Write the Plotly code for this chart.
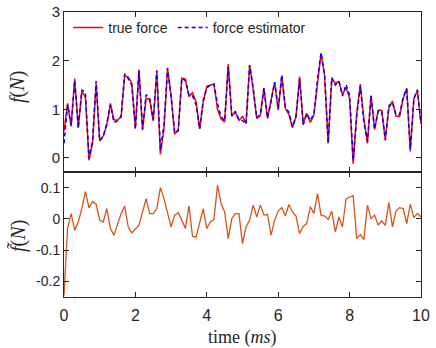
import plotly.graph_objects as go

# ---------------- data ----------------
time_ms = [round(i * 0.1, 1) for i in range(101)]

true_force = [
    0.55, 1.12, 0.65, 1.63, 0.62, 1.37, 1.25, -0.05, 0.30, 1.53,
    0.35, 0.45, 0.68, 1.12, 0.78, 0.78, 0.84, 1.69, 1.66, 1.53,
    0.62, 1.81, 0.57, 1.23, 1.20, 0.76, 1.77, 0.07, 0.60, 1.83,
    1.28, 0.50, 0.55, 1.64, 1.62, 1.26, 1.34, 1.15, 0.60, 1.15,
    1.47, 1.50, 1.52, 1.00, 0.80, 0.74, 1.93, 0.86, 0.94, 0.77,
    0.85, 0.72, 1.91, 1.40, 0.81, 0.87, 1.43, 0.81, 1.21, 1.56,
    0.98, 1.67, 1.02, 0.89, 0.62, 0.85, 1.67, 0.70, 0.92, 0.73,
    0.88, 1.54, 2.15, 1.69, 0.30, 1.62, 1.54, 1.57, 1.30, 1.45,
    1.22, -0.12, 0.92, 1.52, 0.80, 0.30, 1.28, 0.58, 0.98, 0.98,
    0.38, 1.02, 1.17, 0.86, 0.85, 1.22, 1.43, 0.13, 1.22, 1.38,
    0.70,
]

force_estimator = [
    0.30, 1.09, 0.67, 1.59, 0.61, 1.40, 1.34, -0.01, 0.36, 1.58,
    0.35, 0.44, 0.71, 1.09, 0.73, 0.76, 0.86, 1.73, 1.63, 1.49,
    0.59, 1.79, 0.59, 1.30, 1.22, 0.78, 1.80, 0.17, 0.67, 1.85,
    1.25, 0.51, 0.57, 1.64, 1.59, 1.30, 1.28, 1.09, 0.59, 1.18,
    1.44, 1.49, 1.52, 1.11, 0.85, 0.76, 1.87, 0.86, 0.96, 0.79,
    0.77, 0.69, 1.91, 1.44, 0.82, 0.91, 1.44, 0.82, 1.16, 1.56,
    1.01, 1.71, 1.03, 0.94, 0.64, 0.86, 1.62, 0.68, 0.91, 0.77,
    0.90, 1.62, 2.16, 1.70, 0.30, 1.65, 1.50, 1.58, 1.27, 1.51,
    1.29, -0.05, 0.86, 1.47, 0.73, 0.34, 1.28, 0.59, 0.96, 0.97,
    0.36, 1.07, 1.14, 0.89, 0.89, 1.25, 1.42, 0.18, 1.22, 1.40,
    0.71,
]

force_error = [
    -0.245, -0.030, 0.017, -0.036, -0.010, 0.033, 0.087, 0.035, 0.055, 0.047,
    -0.004, -0.010, 0.033, -0.031, -0.052, -0.020, 0.017, 0.041, -0.026, -0.045,
    -0.033, -0.020, 0.022, 0.065, 0.017, 0.017, 0.033, 0.100, 0.065, 0.022,
    -0.026, 0.012, 0.020, -0.004, -0.031, 0.042, -0.056, -0.058, -0.010, 0.033,
    -0.031, -0.010, -0.002, 0.108, 0.049, 0.022, -0.063, 0.001, 0.017, 0.017,
    -0.079, -0.026, -0.004, 0.044, 0.006, 0.044, 0.012, 0.014, -0.052, -0.004,
    0.025, 0.036, 0.009, 0.046, 0.022, 0.009, -0.047, -0.024, -0.015, 0.039,
    0.017, 0.081, 0.012, 0.009, -0.002, 0.025, -0.042, 0.006, -0.026, 0.063,
    0.070, 0.074, -0.063, -0.050, -0.066, 0.044, 0.001, 0.012, -0.020, -0.006,
    -0.021, 0.052, -0.026, 0.025, 0.036, 0.033, -0.015, 0.047, 0.004, 0.017,
    0.006,
]

x_ticks = [0, 2, 4, 6, 8, 10]
top_y_ticks = [0, 1, 2, 3]
bottom_y_ticks = [-0.2, -0.1, 0, 0.1]
bottom_y_ticktext = ["-0.2", "-0.1", "0", "0.1"]

# ---------------- figure ----------------
AX = "#262626"
SANS = "Liberation Sans, Arial, sans-serif"
SERIF = "Liberation Serif, DejaVu Serif, serif"

fig = go.Figure()

fig.add_trace(go.Scatter(
    x=time_ms, y=true_force, mode="lines", name="true force",
    line=dict(color="#ff0000", width=1.5), xaxis="x", yaxis="y"))
fig.add_trace(go.Scatter(
    x=time_ms, y=force_estimator, mode="lines", name="force estimator",
    line=dict(color="#0000ff", width=1.5, dash="4px,3px"), xaxis="x", yaxis="y"))
fig.add_trace(go.Scatter(
    x=time_ms, y=force_error, mode="lines", name="error",
    line=dict(color="#D95319", width=1.3), xaxis="x2", yaxis="y2",
    showlegend=False))

split = 125 / 285

common_x = dict(range=[0, 10], tickvals=x_ticks, ticks="inside", ticklen=5,
                tickcolor=AX, showline=True, linecolor=AX, linewidth=1,
                mirror="allticks", showgrid=False, zeroline=False,
                automargin=False)

fig.update_layout(
    width=436, height=348,
    autosize=False,
    margin=dict(l=64, r=15, t=12, b=51, pad=0),
    paper_bgcolor="white", plot_bgcolor="white",
    font=dict(family=SANS, color=AX),
    xaxis=dict(common_x, domain=[0, 1], anchor="y", showticklabels=False),
    yaxis=dict(domain=[split, 1], anchor="x", range=[-0.29, 3],
               tickvals=top_y_ticks, ticks="inside", ticklen=5, tickcolor=AX,
               showline=True, linecolor=AX, linewidth=1, mirror="allticks",
               showgrid=False, zeroline=False, automargin=False,
               tickfont=dict(size=15, family=SANS, color=AX)),
    xaxis2=dict(common_x, domain=[0, 1], anchor="y2",
                tickfont=dict(size=16, family=SANS, color=AX),
                ticklabelstandoff=4),
    yaxis2=dict(domain=[0, split], anchor="x2", range=[-0.25, 0.15],
                tickvals=bottom_y_ticks, ticktext=bottom_y_ticktext,
                ticks="inside", ticklen=5, tickcolor=AX,
                showline=True, linecolor=AX, linewidth=1, mirror="allticks",
                showgrid=False, zeroline=False, automargin=False,
                tickfont=dict(size=14, family=SANS, color=AX)),
    legend=dict(orientation="h", x=0.012, y=1.0, xanchor="left", yanchor="top",
                bgcolor="rgba(0,0,0,0)", font=dict(size=14, family=SANS, color=AX),
                itemwidth=30, tracegroupgap=0),
    showlegend=True,
)

fig.add_annotation(text="<i>f</i>(<i>N</i>)", xref="paper", yref="paper",
                   x=-0.129, y=1 - (87 - 12) / 285, textangle=-90,
                   showarrow=False, xanchor="center", yanchor="middle",
                   font=dict(family=SERIF, size=20, color=AX))
fig.add_annotation(text="<i>f\u0303</i>(<i>N</i>)", xref="paper", yref="paper",
                   x=-0.129, y=(297 - 236) / 285, textangle=-90,
                   showarrow=False, xanchor="center", yanchor="middle",
                   font=dict(family=SERIF, size=20, color=AX))
fig.add_annotation(text="time (<i>ms</i>)", xref="paper", yref="paper",
                   x=0.5, y=-(337 - 297) / 285,
                   showarrow=False, xanchor="center", yanchor="middle",
                   font=dict(family=SERIF, size=18, color=AX))

fig.write_html(
    "out.html",
    config={"displayModeBar": False},
    post_script="document.body.style.margin='0';document.body.style.overflow='hidden';",
)
